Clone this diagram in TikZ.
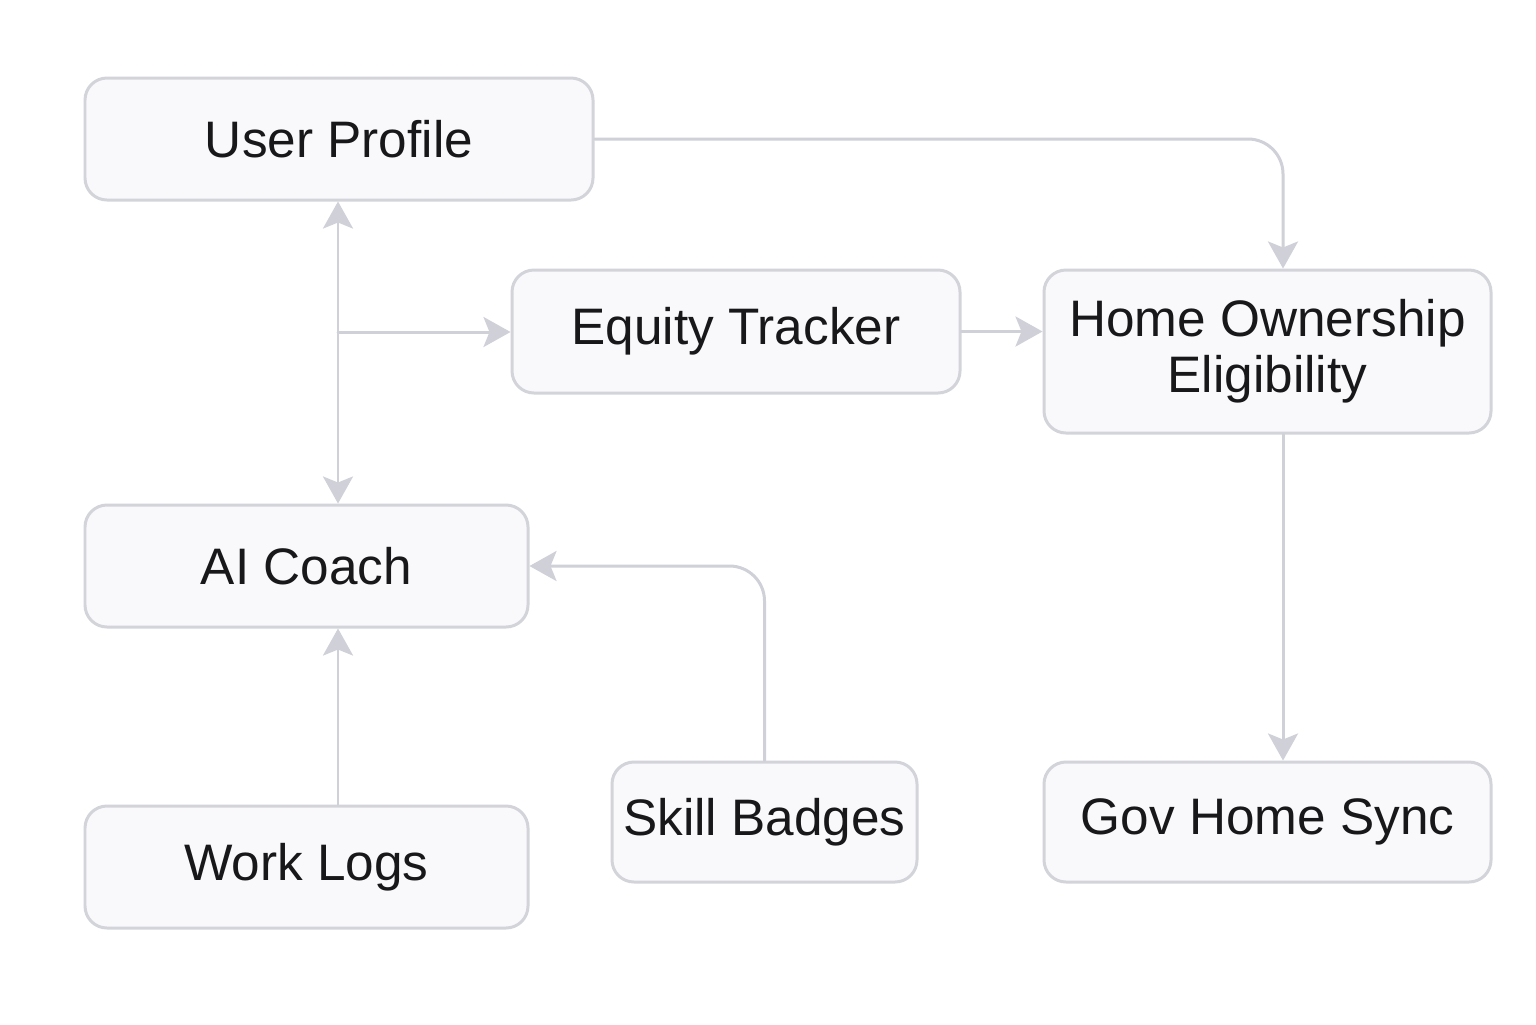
\documentclass[tikz,border=0pt]{standalone}
\usepackage{xcolor}
\usepackage{fontspec}
\setmainfont{Liberation Sans}
\usepackage{tikz}
\usetikzlibrary{arrows.meta, positioning, calc}

\definecolor{boxline}{HTML}{D3D4DA}
\definecolor{boxfill}{HTML}{F9F9FB}
\definecolor{arrline}{HTML}{CFD0D8}
\definecolor{inkdark}{HTML}{18181B}

\begin{document}
\begin{tikzpicture}[line join=round, line cap=round,
        block/.style={draw=boxline, fill=boxfill, line width=0.85pt,
                      rounded corners=2.2mm, text=inkdark, align=center,
                      font=\fontsize{14.6}{16}\selectfont, inner sep=0pt},
        link/.style={draw=arrline, line width=0.85pt, rounded corners=3.5mm,
                     -{Stealth[length=2.7mm, width=3mm, inset=0.6mm]}},
        twolink/.style={link,
                     {Stealth[length=2.7mm, width=3mm, inset=0.6mm]}-{Stealth[length=2.7mm, width=3mm, inset=0.6mm]}}]
        \useasboundingbox[fill=white] (0, 0) rectangle (15.36, -10.24);
        % boxes
        \node[block, minimum width=5.08cm, minimum height=1.22cm] (prof)  at (3.39, -1.39)   {User Profile};
        \node[block, minimum width=4.48cm, minimum height=1.23cm] (eq)    at (7.36, -3.315)  {Equity Tracker};
        \node[block, minimum width=4.47cm, minimum height=1.63cm] (home)  at (12.675, -3.515) {Home Ownership\\Eligibility};
        \node[block, minimum width=4.43cm, minimum height=1.22cm] (coach) at (3.065, -5.66)  {AI Coach};
        \node[block, minimum width=4.43cm, minimum height=1.22cm] (logs)  at (3.065, -8.67)  {Work Logs};
        \node[block, minimum width=3.05cm, minimum height=1.20cm] (badge) at (7.645, -8.22)  {Skill Badges};
        \node[block, minimum width=4.47cm, minimum height=1.20cm] (gov)   at (12.675, -8.22) {Gov Home Sync};
        % connectors
        \coordinate (spine) at (3.38, -3.32);
        \coordinate (bend)  at (12.83, -1.39);
        \draw[link] (prof.east) -- (bend) -- (bend |- home.north);
        \draw[twolink, rounded corners=0pt] (prof.south -| spine) -- (coach.north -| spine);
        \draw[link] (spine) -- (spine -| eq.west);
        \draw[link] (eq.east) -- (eq.east -| home.west);
        \draw[link] (home.south -| bend) -- (gov.north -| bend);
        \draw[link] (logs.north -| spine) -- (coach.south -| spine);
        \draw[link] (badge.north) |- (coach.east);
    \end{tikzpicture}
\end{document}
